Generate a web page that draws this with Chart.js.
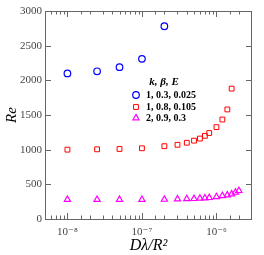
<!DOCTYPE html>
<html>
<head>
<meta charset="utf-8">
<script src="https://cdn.jsdelivr.net/npm/chart.js@4/dist/chart.umd.min.js"></script>
<style>
  html, body { margin: 0; padding: 0; background: #fff; }
  canvas { display: block; }
</style>
</head>
<body>
<canvas id="reChart" width="264" height="255"></canvas>
<script>
// values
const xCircle = [1e-8, 2.5e-8, 5e-8, 1e-7, 2e-7];
const reCircle = [2100, 2130, 2190, 2310, 2780];

const xSquare = [1e-8, 2.5e-8, 5e-8, 1e-7, 2e-7, 3e-7, 4e-7, 5e-7, 6e-7, 7e-7, 8e-7, 1e-6, 1.2e-6, 1.4e-6, 1.6e-6];
const reSquare = [1000, 1005, 1010, 1020, 1050, 1070, 1100, 1130, 1160, 1200, 1240, 1325, 1435, 1580, 1880];

const xTriangle = [1e-8, 2.5e-8, 5e-8, 1e-7, 2e-7, 3e-7, 4e-7, 5e-7, 6e-7, 7e-7, 8e-7, 1e-6, 1.2e-6, 1.4e-6, 1.6e-6, 1.8e-6, 2e-6];
const reTriangle = [280, 280, 280, 280, 282, 287, 290, 293, 297, 302, 307, 320, 335, 345, 360, 385, 408];

const seriesLabels = ["1, 0.3, 0.025", "1, 0.8, 0.105", "2, 0.9, 0.3"];
const legendTitle = "k, \u03b2, E";
const xMajorTicks = [1e-8, 1e-7, 1e-6];
const xTickLabels = ["10\u207b\u2078", "10\u207b\u2077", "10\u207b\u2076"];

const serif = "'Liberation Serif', 'DejaVu Serif', serif";

function toPoints(xs, ys) {
    return xs.map((x, i) => ({ x: x, y: ys[i] }));
}

// box, inward ticks and the legend
const frame = {
    id: "frame",
    afterDraw(chart) {
        const ctx = chart.ctx;
        const a = chart.chartArea;
        const xs = chart.scales.x;
        const ys = chart.scales.y;
        ctx.save();
        ctx.strokeStyle = "#666";
        ctx.lineWidth = 1;
        ctx.strokeRect(a.left + 0.5, a.top + 0.5, a.right - a.left - 1, a.bottom - a.top);

        ctx.beginPath();
        xs.ticks.forEach(t => {
            const px = Math.round(xs.getPixelForValue(t.value)) + 0.5;
            if (px <= a.left + 1 || px >= a.right - 1) return;
            const lg = Math.log10(t.value);
            const len = Math.abs(lg - Math.round(lg)) < 1e-6 ? 6 : 3.5;
            ctx.moveTo(px, a.bottom);
            ctx.lineTo(px, a.bottom - len);
            ctx.moveTo(px, a.top);
            ctx.lineTo(px, a.top + len);
        });
        ys.ticks.forEach(t => {
            const py = Math.round(ys.getPixelForValue(t.value)) + 0.5;
            ctx.moveTo(a.left, py);
            ctx.lineTo(a.left + 6, py);
            ctx.moveTo(a.right, py);
            ctx.lineTo(a.right - 6, py);
        });
        ctx.stroke();

        // legend
        ctx.fillStyle = "#000";
        ctx.textBaseline = "middle";
        ctx.textAlign = "center";
        ctx.font = "italic bold 11px " + serif;
        ctx.fillText(legendTitle, 164, 82);
        ctx.textAlign = "left";
        ctx.font = "bold 10px " + serif;
        const rows = [95, 107, 118];
        chart.data.datasets.forEach((ds, i) => {
            ctx.strokeStyle = ds.borderColor;
            ctx.fillStyle = "rgba(0,0,0,0)";
            ctx.lineWidth = ds.borderWidth;
            Chart.helpers.drawPoint(ctx, {
                pointStyle: ds.pointStyle,
                radius: ds.pointRadius,
                rotation: 0,
                borderWidth: ds.borderWidth
            }, 136, rows[i]);
            ctx.fillStyle = "#000";
            ctx.fillText(seriesLabels[i], 146, rows[i]);
        });
        ctx.restore();
    }
};

new Chart(document.getElementById("reChart"), {
    type: "scatter",
    data: {
        datasets: [
            {
                label: seriesLabels[0],
                data: toPoints(xCircle, reCircle),
                pointStyle: "circle",
                pointRadius: 3.3,
                borderColor: "#0000ff",
                backgroundColor: "rgba(0,0,0,0)",
                borderWidth: 1.2
            },
            {
                label: seriesLabels[1],
                data: toPoints(xSquare, reSquare),
                pointStyle: "rect",
                pointRadius: 3.4,
                borderColor: "#ff0000",
                backgroundColor: "rgba(0,0,0,0)",
                borderWidth: 1
            },
            {
                label: seriesLabels[2],
                data: toPoints(xTriangle, reTriangle),
                pointStyle: "triangle",
                pointRadius: 3.6,
                borderColor: "#ff00ff",
                backgroundColor: "rgba(0,0,0,0)",
                borderWidth: 1.2
            }
        ]
    },
    options: {
        responsive: false,
        animation: false,
        layout: { padding: { top: 11, right: 12, left: 0, bottom: 0 } },
        plugins: {
            legend: { display: false },
            tooltip: { enabled: false }
        },
        scales: {
            x: {
                type: "logarithmic",
                min: 5e-9,
                max: 3e-6,
                grid: { display: false, drawTicks: false },
                border: { display: false },
                afterFit(scale) { scale.height = 36; },
                ticks: {
                    autoSkip: false,
                    maxRotation: 0,
                    padding: 7,
                    color: "#444",
                    font: { family: serif, size: 11 },
                    callback(value) {
                        const i = xMajorTicks.findIndex(v => Math.abs(v - value) / v < 1e-6);
                        return i >= 0 ? xTickLabels[i] : "";
                    }
                },
                title: {
                    display: true,
                    text: "D\u03bb/R\u00b2",
                    color: "#000",
                    padding: { top: 0, bottom: 0 },
                    font: { family: serif, size: 16, style: "italic" }
                }
            },
            y: {
                min: 0,
                max: 3000,
                grid: { display: false, drawTicks: false },
                border: { display: false },
                afterFit(scale) { scale.width = 45; },
                ticks: {
                    stepSize: 500,
                    padding: 3,
                    color: "#444",
                    font: { family: serif, size: 11 },
                    callback(value) { return String(value); }
                },
                title: {
                    display: true,
                    text: "Re",
                    color: "#000",
                    padding: { top: 3, bottom: 0 },
                    font: { family: serif, size: 15, style: "italic" }
                }
            }
        }
    },
    plugins: [frame]
});
</script>
</body>
</html>
